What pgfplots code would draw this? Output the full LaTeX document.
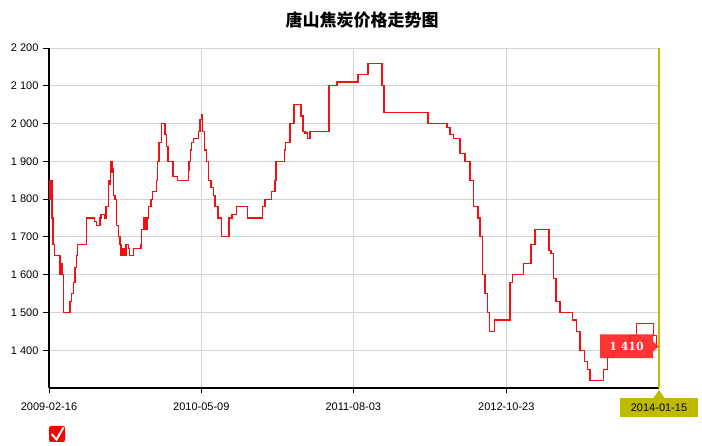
\documentclass[border=0pt]{standalone}
\usepackage{pgfplots}
\pgfplotsset{compat=1.18}
\usepackage{fontspec}
\setmainfont{Liberation Sans}
\newfontfamily\cjk{Noto Sans CJK SC}
\newfontfamily\tipfont{DejaVu Serif}
\definecolor{linered}{RGB}{245,15,15}
\definecolor{tipred}{RGB}{255,35,35}
\definecolor{olivebox}{RGB}{190,187,0}
\definecolor{gridgray}{RGB}{212,212,212}
\begin{document}
\begin{tikzpicture}
\useasboundingbox (0,0) rectangle (702bp,446bp);
\node[font=\cjk\bfseries\fontsize{17bp}{20bp}\selectfont] at (362bp,425.5bp) {唐山焦炭价格走势图};
\begin{axis}[
  at={(49bp,58bp)}, anchor=south west,
  scale only axis, width=610bp, height=340bp,
  xmin=0, xmax=610, ymin=1300, ymax=2200,
  axis x line=bottom, axis y line=left,
  axis line style={line width=1.8bp, black, -},
  xtick={0,152.3,304.3,457.3},
  xticklabels={2009-02-16,2010-05-09,2011-08-03,2012-10-23},
  xticklabel style={yshift=-6bp},
  yticklabel style={xshift=-1.5bp},
  ytick={1400,1500,...,2200},
  grid=major, major grid style={gridgray, line width=0.8bp},
  tick align=outside, major tick length=5.5bp,
  tick style={black, line width=1bp},
  ticklabel style={font=\fontsize{11bp}{13bp}\selectfont},
  /pgf/number format/assume math mode=true,
  /pgf/number format/1000 sep={\ },
  clip=false,
]
\addplot[const plot, draw=linered, line width=1.1bp, mark=none] coordinates {
(0,1800) (1,1850) (3,1750) (4,1680) (5.3,1650) (11,1600) (12.5,1630) (13.5,1600) (14.3,1500)
(21,1530) (22.7,1550) (24.3,1580) (26,1620) (27.7,1650) (28.7,1680) (37.7,1750)
(45.3,1740) (47.7,1730) (51,1750) (52,1760) (55.3,1750) (57,1780) (59.3,1850) (60.5,1840)
(61.7,1900) (63,1870) (64,1880) (64.8,1810) (66,1800) (67.7,1730) (69.3,1700) (71,1680)
(72,1650) (73.3,1670) (74,1650) (74.5,1670) (75.3,1650) (77,1680) (79.3,1670) (80.3,1650)
(84.3,1670) (92,1680) (92.5,1720) (95,1750) (96.5,1720) (98,1750) (99.3,1780) (102,1800)
(103.3,1820) (107.7,1850) (108.7,1900) (110,1950) (112.7,2000) (116,1970) (117.7,1940)
(119,1900) (124,1860) (128.7,1850) (139.3,1875) (140,1900) (141.7,1930) (142.7,1950)
(144.3,1960) (149.3,1980) (151,2010) (152.7,2025) (153.7,1980) (155.3,1930) (157.7,1900)
(159.3,1850) (162,1830) (164.3,1810) (166,1780) (169,1750) (172.7,1700) (180,1750)
(183,1760) (187.7,1780) (198.7,1750) (213.3,1780) (216,1800) (222.7,1820) (226,1850)
(227,1900) (235.3,1930) (236.7,1950) (241,2000) (245,2050) (252,2020) (254,1980)
(256,1975) (258.5,1960) (261,1980) (280,2100) (288,2110) (309,2130) (319,2160)
(333,2100) (335,2030) (379,2000) (398,1990) (401,1970) (404.3,1960) (411,1920)
(416,1900) (421,1850) (424.3,1780) (429,1750) (431,1700) (433.3,1600) (436,1550)
(438.7,1500) (440.3,1450) (445.3,1480) (461,1580) (463.3,1600) (474.3,1630)
(482,1680) (486,1720) (500,1665) (502,1655) (504.3,1590) (507,1530) (511,1500)
(523.3,1480) (527.7,1450) (531,1400) (535.3,1370) (538.7,1350) (541,1320)
(554.3,1350) (558.7,1380) (564.3,1400) (572,1410) (581,1440) (587.7,1470)
(604.3,1440) (607.7,1410) (610,1410)
};
\draw[olivebox, line width=1.2bp] (axis cs:610,1300) -- (axis cs:610,2200);
\fill[tipred, fill opacity=0.92] (axis cs:551,1379) -- (axis cs:604,1379) -- (axis cs:604,1396)
  -- (axis cs:609.5,1410) -- (axis cs:604,1424) -- (axis cs:604,1442) -- (axis cs:551,1442) -- cycle;
\node[text=white, font=\tipfont\bfseries\fontsize{11bp}{13bp}\selectfont] at (axis cs:577.5,1410) {1\ 410};
\end{axis}
\fill[olivebox] (620bp,29bp) rectangle (698bp,48bp);
\fill[olivebox] (653bp,47.5bp) -- (659bp,56bp) -- (665bp,47.5bp) -- cycle;
\node[font=\fontsize{11bp}{13bp}\selectfont, text=black] at (659bp,38.5bp) {2014-01-15};
\fill[red, rounded corners=2bp] (49bp,4bp) rectangle (65bp,20bp);
\draw[white, line width=2bp] (51.7bp,12bp) -- (56.5bp,6.5bp) -- (63.5bp,18.5bp);
\end{tikzpicture}
\end{document}
